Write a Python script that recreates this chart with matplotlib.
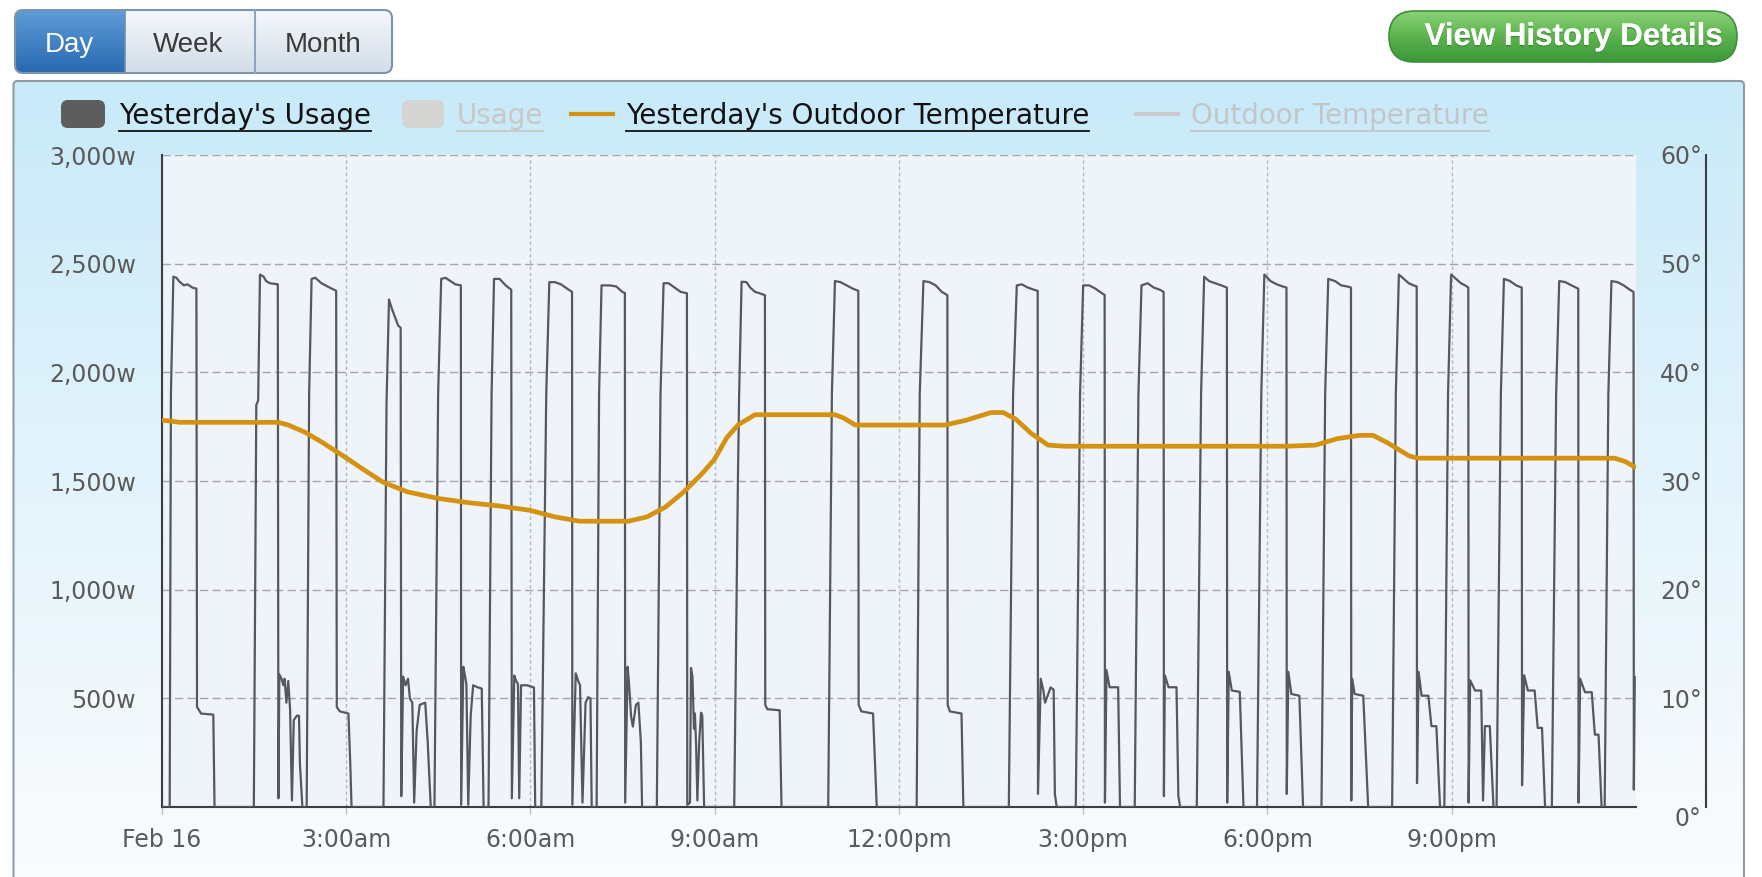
import numpy as np
import matplotlib
matplotlib.use("Agg")
import matplotlib.pyplot as plt
import matplotlib.colors as mcolors
import matplotlib.patheffects as pe
from matplotlib.patches import FancyBboxPatch

# ---- data -------------------------------------------------------------
# Yesterday's usage (hour of day, watts), one line per furnace cycle
usage_points = [
    (0.00, 0), (0.13, 0), (0.15, 1900), (0.19, 2440), (0.24, 2435), (0.28, 2420), (0.36, 2400), (0.42, 2405), (0.50, 2390), (0.565, 2385), (0.575, 460), (0.62, 440), (0.64, 430), (0.84, 425), (0.86, 0),
    (1.50, 0), (1.54, 1850), (1.57, 1870), (1.60, 2450), (1.66, 2440), (1.70, 2420), (1.76, 2410), (1.89, 2405), (1.90, 40), (1.915, 610), (1.95, 590), (1.98, 560), (2.00, 590), (2.03, 480), (2.06, 580), (2.09, 450), (2.12, 30), (2.15, 400), (2.20, 420), (2.235, 420), (2.25, 200), (2.29, 0),
    (2.36, 0), (2.40, 1900), (2.44, 2430), (2.50, 2435), (2.60, 2410), (2.70, 2395), (2.84, 2375), (2.85, 460), (2.90, 440), (3.04, 430), (3.07, 200), (3.09, 0),
    (3.61, 0), (3.66, 1860), (3.70, 2335), (3.75, 2290), (3.85, 2215), (3.89, 2205), (3.90, 50), (3.93, 600), (3.97, 560), (4.01, 590), (4.04, 500), (4.08, 480), (4.11, 20), (4.15, 350), (4.20, 470), (4.29, 480), (4.33, 300), (4.38, 0),
    (4.44, 0), (4.50, 1900), (4.55, 2430), (4.62, 2435), (4.70, 2420), (4.78, 2405), (4.87, 2400), (4.875, 10), (4.91, 645), (4.94, 600), (4.96, 565), (4.99, 10), (5.03, 420), (5.07, 560), (5.15, 550), (5.21, 545), (5.24, 0),
    (5.32, 0), (5.37, 1900), (5.41, 2430), (5.50, 2430), (5.60, 2400), (5.69, 2380), (5.70, 40), (5.74, 605), (5.77, 580), (5.80, 565), (5.82, 40), (5.85, 560), (5.95, 560), (6.06, 550), (6.08, 0),
    (6.18, 0), (6.26, 1900), (6.31, 2415), (6.40, 2415), (6.50, 2405), (6.60, 2385), (6.68, 2370), (6.685, 10), (6.74, 615), (6.78, 580), (6.81, 560), (6.85, 20), (6.90, 480), (6.94, 505), (6.98, 500), (7.00, 0),
    (7.08, 0), (7.12, 1900), (7.16, 2400), (7.30, 2400), (7.40, 2395), (7.50, 2370), (7.54, 2365), (7.545, 20), (7.585, 645), (7.61, 560), (7.64, 420), (7.67, 370), (7.72, 470), (7.76, 480), (7.80, 300), (7.82, 0),
    (8.06, 0), (8.12, 1900), (8.17, 2410), (8.25, 2410), (8.35, 2390), (8.45, 2370), (8.55, 2364), (8.556, 10), (8.60, 20), (8.616, 640), (8.64, 600), (8.665, 360), (8.68, 430), (8.70, 280), (8.72, 30), (8.75, 300), (8.78, 434), (8.80, 420), (8.83, 0),
    (9.32, 0), (9.38, 1500), (9.40, 1900), (9.44, 2417), (9.52, 2415), (9.58, 2390), (9.66, 2370), (9.72, 2365), (9.82, 2355), (9.825, 470), (9.86, 450), (10.06, 445), (10.09, 0),
    (10.85, 0), (10.91, 1900), (10.96, 2420), (11.05, 2415), (11.15, 2400), (11.25, 2385), (11.34, 2375), (11.345, 470), (11.39, 440), (11.58, 430), (11.64, 0),
    (12.29, 0), (12.34, 1900), (12.40, 2420), (12.50, 2415), (12.60, 2400), (12.70, 2370), (12.79, 2355), (12.795, 470), (12.83, 440), (13.02, 430), (13.05, 0),
    (13.79, 0), (13.86, 1900), (13.92, 2400), (14.00, 2405), (14.10, 2390), (14.20, 2380), (14.26, 2375), (14.265, 60), (14.31, 590), (14.35, 540), (14.38, 480), (14.42, 510), (14.47, 550), (14.52, 540), (14.54, 60), (14.57, 0),
    (14.88, 0), (14.95, 1900), (15.00, 2400), (15.10, 2400), (15.20, 2385), (15.30, 2365), (15.35, 2356), (15.355, 20), (15.38, 630), (15.43, 551), (15.57, 551), (15.60, 0),
    (15.84, 0), (15.90, 1900), (15.95, 2400), (16.05, 2410), (16.15, 2390), (16.25, 2380), (16.31, 2370), (16.315, 50), (16.33, 606), (16.39, 551), (16.52, 551), (16.55, 50), (16.58, 0),
    (16.85, 0), (16.92, 1900), (16.97, 2440), (17.05, 2420), (17.15, 2410), (17.25, 2400), (17.34, 2390), (17.345, 20), (17.37, 622), (17.42, 536), (17.55, 530), (17.61, 0),
    (17.83, 0), (17.90, 1900), (17.95, 2450), (18.05, 2420), (18.15, 2405), (18.25, 2395), (18.31, 2390), (18.315, 60), (18.34, 622), (18.39, 520), (18.52, 512), (18.58, 0),
    (18.88, 0), (18.94, 1900), (18.99, 2430), (19.10, 2420), (19.20, 2400), (19.30, 2395), (19.36, 2390), (19.365, 30), (19.38, 590), (19.42, 520), (19.56, 512), (19.64, 0),
    (20.03, 0), (20.09, 1900), (20.14, 2450), (20.22, 2430), (20.30, 2410), (20.38, 2400), (20.43, 2395), (20.435, 110), (20.46, 622), (20.51, 512), (20.62, 512), (20.67, 372), (20.75, 372), (20.81, 0),
    (20.88, 0), (20.94, 1900), (20.99, 2450), (21.07, 2430), (21.15, 2410), (21.22, 2400), (21.27, 2390), (21.275, 20), (21.30, 583), (21.38, 536), (21.48, 536), (21.51, 30), (21.54, 372), (21.62, 372), (21.68, 0),
    (21.73, 0), (21.80, 1900), (21.85, 2430), (21.95, 2420), (22.05, 2400), (22.14, 2390), (22.145, 100), (22.18, 606), (22.24, 536), (22.35, 536), (22.40, 364), (22.47, 364), (22.52, 0),
    (22.63, 0), (22.70, 1900), (22.75, 2420), (22.85, 2415), (22.95, 2400), (23.06, 2385), (23.065, 20), (23.09, 590), (23.17, 528), (23.28, 528), (23.33, 333), (23.39, 333), (23.44, 0),
    (23.49, 0), (23.55, 1900), (23.60, 2420), (23.70, 2415), (23.80, 2400), (23.90, 2380), (23.96, 2370), (23.965, 80), (23.98, 598),
]

# Yesterday's outdoor temperature (hour of day, degrees)
temp_points = [
    (0.0, 35.6), (0.3, 35.4), (1.0, 35.4), (1.9, 35.4), (2.06, 35.15), (2.33, 34.5), (2.6, 33.6),
    (2.93, 32.4), (3.3, 31.0), (3.6, 29.9), (4.0, 29.0), (4.5, 28.4), (5.0, 28.0), (5.5, 27.7),
    (6.0, 27.3), (6.4, 26.7), (6.8, 26.3), (7.6, 26.3), (7.9, 26.7), (8.2, 27.6), (8.5, 29.0),
    (8.8, 30.7), (9.0, 32.0), (9.2, 34.0), (9.39, 35.2), (9.66, 36.1), (10.96, 36.1), (11.1, 35.8),
    (11.29, 35.15), (12.75, 35.15), (13.1, 35.6), (13.5, 36.3), (13.7, 36.3), (13.9, 35.7),
    (14.15, 34.4), (14.43, 33.3), (14.7, 33.2), (18.3, 33.2), (18.78, 33.3), (19.14, 33.9),
    (19.5, 34.2), (19.72, 34.2), (19.96, 33.5), (20.31, 32.3), (20.45, 32.1), (23.65, 32.1),
    (23.82, 31.8), (23.98, 31.3),
]

x_ticks = [0, 3, 6, 9, 12, 15, 18, 21]
x_labels = ["Feb 16", "3:00am", "6:00am", "9:00am", "12:00pm", "3:00pm", "6:00pm", "9:00pm"]
watt_ticks = [500, 1000, 1500, 2000, 2500, 3000]
watt_labels = ["500w", "1,000w", "1,500w", "2,000w", "2,500w", "3,000w"]
deg_ticks = [0, 10, 20, 30, 40, 50, 60]
deg_labels = ["0°", "10°", "20°", "30°", "40°", "50°", "60°"]

tab_names = ["Day", "Week", "Month"]
legend_names = ["Yesterday's Usage", "Usage", "Yesterday's Outdoor Temperature", "Outdoor Temperature"]

usage_hours, usage_watts = zip(*usage_points)
temp_hours, temp_deg = zip(*temp_points)

# ---- figure, pixel canvas --------------------------------------------
W, H = 1762, 877
fig = plt.figure(figsize=(W / 100, H / 100), dpi=100)
bg = fig.add_axes([0, 0, 1, 1], zorder=0)
bg.axis("off")
bg.set_autoscale_on(False)
bg.set_xlim(0, W)
bg.set_ylim(H, 0)


def vgrad(stops, n=256):
    pos = np.array([s[0] for s in stops])
    cols = np.array([mcolors.to_rgb(s[1]) for s in stops])
    t = np.linspace(0, 1, n)
    img = np.stack([np.interp(t, pos, cols[:, k]) for k in range(3)], axis=-1)
    return img[:, None, :]


def grad_box(x0, y0, x1, y1, stops, clip):
    im = bg.imshow(vgrad(stops), extent=(x0, x1, y1, y0), aspect="auto",
                   origin="upper", interpolation="bilinear", zorder=1)
    im.set_clip_path(clip)
    return im


# chart panel
panel = FancyBboxPatch((13.5, 81), 1730.5, 830, boxstyle="round,pad=0,rounding_size=4",
                       fc="none", ec="#8e9ca8", lw=1.5, zorder=3)
bg.add_patch(panel)
grad_box(13.5, 81, 1744, 911, [(0, "#c8eaf9"), (0.45, "#e2f3fb"), (0.85, "#f6fafd"), (1, "#fbfdfe")], panel)

# Day / Week / Month tabs
tabs = FancyBboxPatch((15, 10), 377, 63, boxstyle="round,pad=0,rounding_size=8",
                      fc="none", ec="#7e94ac", lw=1.5, zorder=4)
bg.add_patch(tabs)
grad_box(15, 10, 124.5, 73, [(0, "#5f9dd8"), (1, "#2768b0")], tabs)
grad_box(124.5, 10, 392, 73, [(0, "#f5f8fb"), (1, "#d2dde8")], tabs)
bg.plot([124.5, 124.5], [10, 73], color="#6f8eb0", lw=1.2, zorder=4)
bg.plot([254.5, 254.5], [10, 73], color="#8ea5bd", lw=1.5, zorder=4)
for name, cx, col in zip(tab_names, [69, 188.5, 323.5], ["white", "#3a3a3a", "#3a3a3a"]):
    bg.text(cx, 51.5, name, ha="center", va="baseline", fontsize=20,
            family="Liberation Sans", color=col, zorder=5)

# green button
btn = FancyBboxPatch((1389, 11), 348, 51, boxstyle="round,pad=0,rounding_size=25.5",
                     fc="none", ec="#3f8e3b", lw=1.2, zorder=4)
bg.add_patch(btn)
grad_box(1389, 11, 1737, 62, [(0, "#8ad277"), (0.5, "#5cb34e"), (1, "#3a9838")], btn)
bg.text(1573.5, 45, "View History Details", ha="center", va="baseline", fontsize=22.5,
        family="Liberation Sans", weight="bold", color="white", zorder=5,
        path_effects=[pe.withSimplePatchShadow(offset=(0, -1), shadow_rgbFace="#2f6e2c", alpha=0.6),
                      pe.Normal()])

# legend
bg.add_patch(FancyBboxPatch((61, 100), 44, 28, boxstyle="round,pad=0,rounding_size=7",
                            fc="#5d5d5d", ec="none", zorder=4))
bg.add_patch(FancyBboxPatch((402, 100), 42, 28, boxstyle="round,pad=0,rounding_size=7",
                            fc="#d4d4d2", ec="none", zorder=4))
bg.plot([571, 613], [114, 114], color="#d4920f", lw=3, zorder=4)
bg.plot([1136, 1178], [114, 114], color="#c9cbcd", lw=3, zorder=4)

renderer = fig.canvas.get_renderer()
for name, x, col in zip(legend_names, [118.6, 457, 626, 1191],
                        ["#111111", "#c8c8c6", "#111111", "#c3c6c9"]):
    t = bg.text(x, 124, name, ha="left", va="baseline", fontsize=20,
                family="DejaVu Sans", color=col, zorder=5)
    bb = t.get_window_extent(renderer)
    x0, x1 = bg.transData.inverted().transform([[bb.x0, 0], [bb.x1, 0]])[:, 0]
    bg.plot([x0, x1], [130.5, 130.5], color=col, lw=1.3, zorder=5)

# ---- plot ----------------------------------------------------------------
L, R, T, B = 161.7, 1636, 155, 807
ax = fig.add_axes([L / W, 1 - B / H, (R - L) / W, (B - T) / H], zorder=1)
ax.set_facecolor("#eef4fa")
ax.plot(usage_hours, usage_watts, color="#55595d", lw=1.6, zorder=3)
ax.set_xlim(0, 24)
ax.set_ylim(0, 3000)
ax.set_xticks(x_ticks, x_labels)
ax.set_yticks(watt_ticks, watt_labels)
ax.set_axisbelow(True)
ax.xaxis.grid(True, color="#b3b8bf", lw=1, linestyle=(0, (2.5, 2)))
ax.yaxis.grid(True, color="#a3a7ac", lw=1, linestyle=(0, (6, 3)))
ax.tick_params(axis="y", length=0, pad=18.5, labelsize=17, labelcolor="#5a5a5a")
ax.tick_params(axis="x", length=5, width=1, color="#b8c0c8", pad=10, labelsize=17, labelcolor="#5a5a5a")
for lab in ax.get_xticklabels() + ax.get_yticklabels():
    lab.set_family("DejaVu Sans")
ax.spines["top"].set_visible(False)
ax.spines["right"].set_visible(False)
for s in ["left", "bottom"]:
    ax.spines[s].set_color("#3b3e42")
    ax.spines[s].set_linewidth(1.5)

ax2 = ax.twinx()
ax2.set_zorder(2)
ax2.plot(temp_hours, temp_deg, color="#d4920f", lw=3.4, solid_capstyle="round",
         solid_joinstyle="round", zorder=4)
ax2.set_ylim(0, 60)
ax2.set_yticks(deg_ticks, deg_labels)
for s in ["top", "left", "bottom"]:
    ax2.spines[s].set_visible(False)
ax2.spines["right"].set_position(("outward", 50.4))
ax2.spines["right"].set_color("#3b3e42")
ax2.spines["right"].set_linewidth(1.5)
ax2.tick_params(axis="y", length=0, pad=-3, labelsize=17, labelcolor="#5a5a5a")
for lab in ax2.get_yticklabels():
    lab.set_horizontalalignment("right")
ax2.get_yticklabels()[0].set_verticalalignment("top")

fig.savefig("out.png", dpi=100, facecolor="white")
